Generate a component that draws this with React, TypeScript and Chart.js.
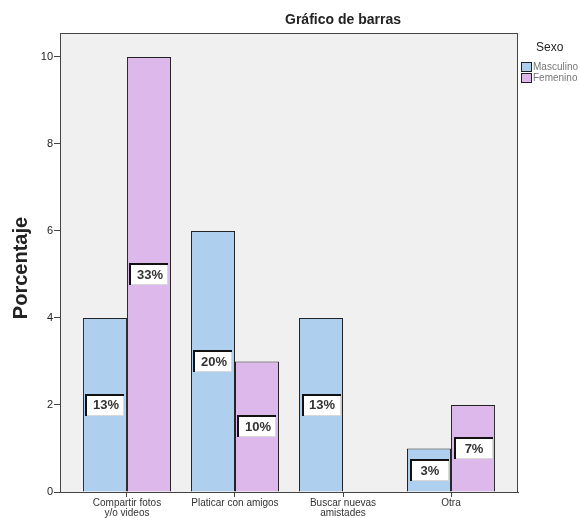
import React, { useEffect, useRef } from "react";
import { Chart, registerables } from "chart.js";

Chart.register(...registerables);

const categories: string[][] = [
  ["Compartir fotos", "y/o videos"],
  ["Platicar con amigos"],
  ["Buscar nuevas", "amistades"],
  ["Otra"],
];
const seriesNames = ["Masculino", "Femenino"];
const masculino: (number | null)[] = [4, 6, 4, 1];
const femenino: (number | null)[] = [10, 3, null, 2];
const masculinoLabels = ["13%", "20%", "13%", "3%"];
const femeninoLabels = ["33%", "10%", "", "7%"];
const yTicks = [0, 2, 4, 6, 8, 10];

const FONT = "'Liberation Sans', Arial, sans-serif";
const BLUE = "#aed0ee";
const PINK = "#dcb9ea";

export default function App() {
  const ref = useRef<HTMLCanvasElement | null>(null);

  useEffect(() => {
    if (!ref.current) return;
    const labelSets = [masculinoLabels, femeninoLabels];

    const framePlugin = {
      id: "frame",
      beforeDraw(chart: any) {
        const { ctx, chartArea: a } = chart;
        ctx.save();
        ctx.fillStyle = "#ffffff";
        ctx.fillRect(0, 0, chart.width, chart.height);
        ctx.fillStyle = "#f0f0f0";
        ctx.fillRect(a.left, a.top, a.right - a.left, a.bottom - a.top);
        ctx.restore();
      },
      afterDatasetsDraw(chart: any) {
        const { ctx, chartArea: a } = chart;
        ctx.save();
        ctx.strokeStyle = "#444";
        ctx.lineWidth = 1;
        ctx.strokeRect(a.left + 0.5, a.top + 0.5, a.right - a.left - 1, a.bottom - a.top);
        chart.data.datasets.forEach((ds: any, di: number) => {
          const meta = chart.getDatasetMeta(di);
          meta.data.forEach((el: any, i: number) => {
            const txt = labelSets[di][i];
            const v = ds.data[i]?.y;
            if (!txt || v == null) return;
            const cx = el.x;
            const cy = (el.y + el.base) / 2;
            const w = 39;
            const h = 22;
            const x0 = Math.round(cx - w / 2);
            const y0 = Math.round(cy - h / 2);
            ctx.fillStyle = "#ffffff";
            ctx.fillRect(x0, y0, w, h);
            ctx.fillStyle = "#111";
            ctx.fillRect(x0, y0, w, 2);
            ctx.fillRect(x0, y0, 2, h);
            ctx.fillStyle = "#d8d8d8";
            ctx.fillRect(x0 + 2, y0 + h - 1, w - 2, 1);
            ctx.fillRect(x0 + w - 1, y0 + 2, 1, h - 2);
            ctx.fillStyle = "#333";
            ctx.font = `bold 13px ${FONT}`;
            ctx.textAlign = "center";
            ctx.textBaseline = "middle";
            ctx.fillText(txt, cx + 1, cy + 1);
          });
        });
        ctx.restore();
      },
      afterDraw(chart: any) {
        const { ctx } = chart;
        ctx.save();
        ctx.fillStyle = "#222";
        ctx.font = `bold 14px ${FONT}`;
        ctx.textAlign = "center";
        ctx.textBaseline = "middle";
        ctx.fillText("Gráfico de barras", 343, 20);
        ctx.save();
        ctx.translate(21, 268);
        ctx.rotate(-Math.PI / 2);
        ctx.font = `bold 20px ${FONT}`;
        ctx.fillStyle = "#222";
        ctx.fillText("Porcentaje", 0, 0);
        ctx.restore();
        ctx.font = `12px ${FONT}`;
        ctx.textAlign = "left";
        ctx.fillStyle = "#222";
        ctx.fillText("Sexo", 536, 48);
        const cols = [BLUE, PINK];
        seriesNames.forEach((name, i) => {
          const y = 62 + i * 11;
          ctx.fillStyle = cols[i];
          ctx.fillRect(521, y, 10, 9);
          ctx.strokeStyle = "#222";
          ctx.lineWidth = 1;
          ctx.strokeRect(521.5, y + 0.5, 10, 9);
          ctx.fillStyle = "#777";
          ctx.font = `10px ${FONT}`;
          ctx.textBaseline = "middle";
          ctx.fillText(name, 533, y + 5);
        });
        ctx.restore();
      },
    };

    const chart = new Chart(ref.current, {
      type: "bar",
      data: {
        datasets: [
          {
            label: seriesNames[0],
            data: masculino.map((v, i) => ({ x: i, y: v })) as any,
            backgroundColor: BLUE,
            borderColor: "#222",
            borderWidth: 1,
            categoryPercentage: 0.815,
            barPercentage: 1,
          },
          {
            label: seriesNames[1],
            data: femenino.map((v, i) => ({ x: i, y: v })) as any,
            backgroundColor: PINK,
            borderColor: "#222",
            borderWidth: 1,
            categoryPercentage: 0.815,
            barPercentage: 1,
          },
        ],
      },
      options: {
        animation: false,
        responsive: false,
        devicePixelRatio: 1,
        layout: { padding: { top: 33, right: 63, left: 0, bottom: 0 } },
        plugins: {
          legend: { display: false },
          tooltip: { enabled: false },
          title: { display: false },
        },
        scales: {
          x: {
            type: "linear",
            offset: false,
            min: -0.62,
            max: 3.62,
            afterBuildTicks(scale: any) {
              scale.ticks = categories.map((_, i) => ({ value: i }));
            },
            afterFit(scale: any) {
              scale.height = 26;
            },
            grid: {
              display: true,
              offset: false,
              drawOnChartArea: false,
              tickLength: 5,
              color: "#444",
            },
            border: { display: true, color: "#444" },
            ticks: {
              autoSkip: false,
              maxRotation: 0,
              padding: 1,
              color: "#333",
              font: { family: FONT, size: 10, lineHeight: 1.0 },
              callback: (v: any) => categories[v as number] ?? "",
            },
          },
          y: {
            min: 0,
            max: 10.55,
            afterBuildTicks(scale: any) {
              scale.ticks = yTicks.map((v) => ({ value: v }));
            },
            afterFit(scale: any) {
              scale.width = 60;
            },
            grid: {
              display: true,
              drawOnChartArea: false,
              tickLength: 6,
              color: "#444",
            },
            border: { display: true, color: "#444" },
            ticks: {
              padding: 1,
              color: "#222",
              font: { family: FONT, size: 11 },
            },
          },
        },
      } as any,
      plugins: [framePlugin],
    });
    return () => chart.destroy();
  }, []);

  return (
    <div style={{ position: "fixed", left: 0, top: 0, width: 581, height: 518 }}>
      <canvas ref={ref} width={581} height={518} />
    </div>
  );
}
